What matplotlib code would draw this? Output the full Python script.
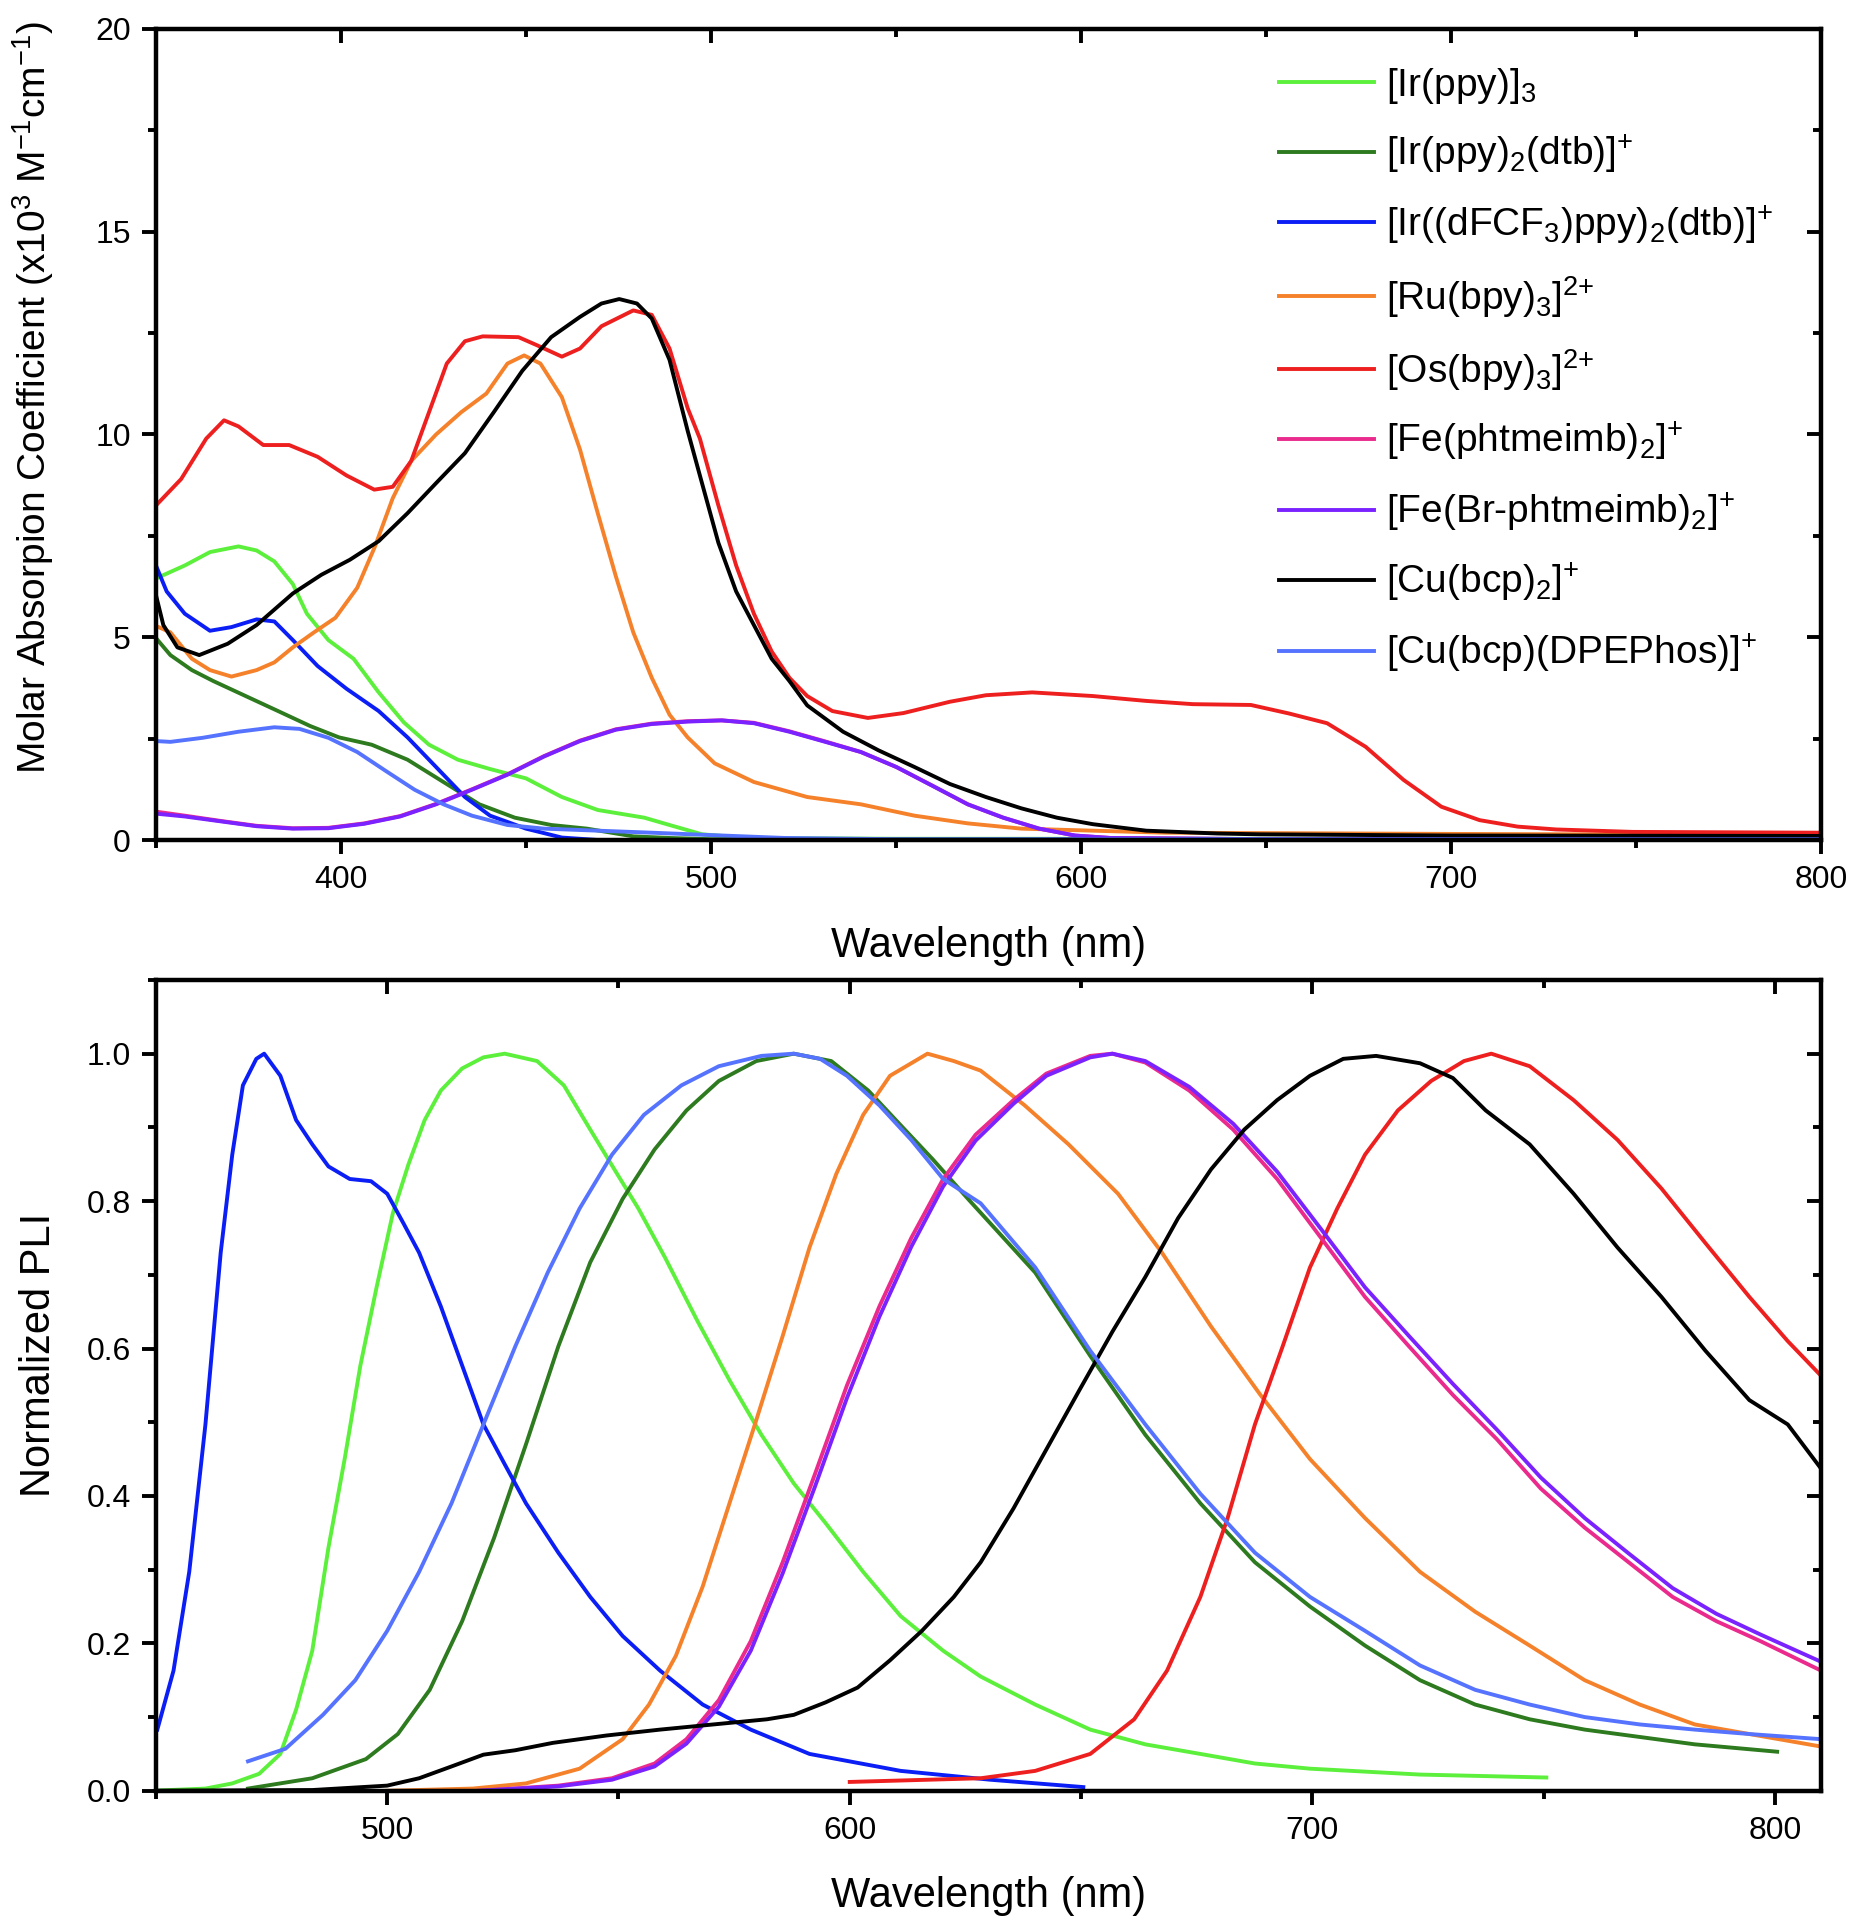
import numpy as np
import matplotlib.pyplot as plt
from matplotlib.ticker import MultipleLocator

plt.rcParams['font.family'] = ['Liberation Sans', 'DejaVu Sans']
plt.rcParams['mathtext.fontset'] = 'custom'
plt.rcParams['mathtext.rm'] = 'Liberation Sans'
plt.rcParams['mathtext.it'] = 'Liberation Sans'

labels = [r'[Ir(ppy)]$_3$', r'[Ir(ppy)$_2$(dtb)]$^{{+}}$', r'[Ir((dFCF$_3$)ppy)$_2$(dtb)]$^{{+}}$',
          r'[Ru(bpy)$_3$]$^{2{+}}$', r'[Os(bpy)$_3$]$^{2{+}}$', r'[Fe(phtmeimb)$_2$]$^{{+}}$',
          r'[Fe(Br-phtmeimb)$_2$]$^{{+}}$', r'[Cu(bcp)$_2$]$^{{+}}$', r'[Cu(bcp)(DPEPhos)]$^{{+}}$']
colors = ['#5cf03c', '#2d7a1f', '#0a1ef5', '#f5812a', '#ee1f1f', '#ea2a8c', '#7a22ff', '#000000', '#5573ff']

# ---- absorption (top) ----
abs_ppy_x = [350, 357.8, 364.6, 372.3, 377.2, 382, 387, 390.8, 396.6, 403.4, 410.2, 417, 423.8, 431.6, 440.3, 450, 459.7, 469.4, 482, 488.8, 497.6, 510, 550, 800]
abs_ppy_y = [6.45, 6.77, 7.1, 7.24, 7.14, 6.87, 6.31, 5.58, 4.93, 4.47, 3.64, 2.9, 2.35, 1.98, 1.75, 1.52, 1.06, 0.74, 0.55, 0.37, 0.14, 0.05, 0.03, 0.03]
abs_dtb_x = [350, 353.9, 359.7, 365.5, 373.3, 383, 391.7, 399.5, 408.3, 418, 427.7, 437.4, 447, 456.8, 466.5, 479, 488.8, 500, 800]
abs_dtb_y = [4.98, 4.56, 4.19, 3.92, 3.59, 3.18, 2.81, 2.53, 2.35, 1.98, 1.43, 0.88, 0.55, 0.37, 0.28, 0.09, 0.05, 0.02, 0.02]
abs_dfcf_x = [350, 352.9, 357.8, 364.6, 370.4, 377.2, 382, 387, 393.7, 401.5, 410.2, 418, 425.7, 433.5, 440.3, 450, 459.7, 469.4, 800]
abs_dfcf_y = [6.77, 6.13, 5.58, 5.16, 5.25, 5.44, 5.39, 4.93, 4.29, 3.73, 3.18, 2.53, 1.8, 1.06, 0.6, 0.28, 0.06, 0.0, 0.0]
abs_ru_x = [350, 353.9, 359.7, 364.6, 370.4, 377.2, 382, 387, 392.7, 398.5, 404.4, 409.2, 414, 419, 425.7, 432.5, 439.3, 445, 449.5, 453.9, 459.7, 464.6, 469.4, 474.3, 479, 484, 488.8, 493.7, 501, 511.6, 526, 540.5, 555, 569.4, 583.9, 603.2, 622.5, 700, 800]
abs_ru_y = [5.28, 5.12, 4.47, 4.19, 4.03, 4.19, 4.38, 4.75, 5.12, 5.48, 6.22, 7.24, 8.43, 9.35, 10.0, 10.55, 11.01, 11.75, 11.95, 11.75, 10.92, 9.63, 8.06, 6.5, 5.12, 4.0, 3.09, 2.53, 1.89, 1.43, 1.06, 0.88, 0.6, 0.41, 0.28, 0.23, 0.18, 0.15, 0.12]
abs_os_x = [350, 356.8, 363.6, 368.4, 372.3, 379, 386, 393.7, 401.5, 409, 414, 419, 423.8, 428.6, 433.5, 438.3, 448, 453, 459.7, 464.6, 470.4, 479, 484, 488.8, 493.7, 497, 502, 506.8, 511.6, 516.4, 521.2, 526, 532.8, 542.4, 552, 564.6, 574.3, 586.8, 603.2, 617.6, 630.2, 645.9, 656.2, 666.5, 676.9, 687.2, 697.4, 707.7, 718, 728.4, 749, 800]
abs_os_y = [8.25, 8.9, 9.9, 10.35, 10.2, 9.74, 9.74, 9.45, 8.99, 8.64, 8.71, 9.35, 10.55, 11.75, 12.3, 12.42, 12.4, 12.2, 11.92, 12.12, 12.67, 13.06, 12.95, 12.12, 10.65, 9.9, 8.25, 6.77, 5.58, 4.65, 4.0, 3.55, 3.18, 3.01, 3.13, 3.41, 3.57, 3.64, 3.55, 3.43, 3.35, 3.33, 3.12, 2.88, 2.3, 1.48, 0.82, 0.49, 0.33, 0.26, 0.2, 0.18]
abs_fe_x = [350, 357.8, 367.5, 377.2, 387, 396.6, 406.3, 416, 425.7, 435.4, 445, 454.9, 464.6, 474.3, 484, 493.7, 502.9, 511.6, 521.2, 530.9, 540.5, 550.1, 559.8, 569.4, 579, 588.7, 598.4, 608, 650, 800]
abs_fe_y = [0.7, 0.6, 0.47, 0.35, 0.29, 0.3, 0.41, 0.59, 0.89, 1.25, 1.62, 2.07, 2.45, 2.73, 2.87, 2.93, 2.95, 2.89, 2.68, 2.43, 2.17, 1.8, 1.34, 0.88, 0.55, 0.28, 0.11, 0.05, 0.02, 0.02]
abs_febr_x = [350, 357.8, 367.5, 377.2, 387, 396.6, 406.3, 416, 425.7, 435.4, 445, 454.9, 464.6, 474.3, 484, 493.7, 502.9, 511.6, 521.2, 530.9, 540.5, 550.1, 559.8, 569.4, 579, 588.7, 598.4, 608, 650, 800]
abs_febr_y = [0.65, 0.58, 0.46, 0.34, 0.28, 0.29, 0.4, 0.58, 0.88, 1.24, 1.61, 2.06, 2.44, 2.72, 2.86, 2.92, 2.95, 2.88, 2.67, 2.42, 2.17, 1.8, 1.34, 0.88, 0.55, 0.28, 0.11, 0.05, 0.02, 0.02]
abs_cu2_x = [350, 352, 355.8, 361.7, 369.4, 377.2, 387, 394.7, 402.4, 410.2, 418, 425.7, 433.5, 441.3, 449, 456.8, 464.6, 470.4, 475.2, 480, 484, 488.8, 493.7, 497, 502, 506.8, 511.6, 516.4, 521.2, 526, 535.7, 545.3, 555, 564.6, 574.3, 583.9, 593.5, 603.2, 617.6, 636.9, 648.3, 700, 800]
abs_cu2_y = [6.04, 5.3, 4.75, 4.56, 4.84, 5.3, 6.08, 6.54, 6.91, 7.37, 8.06, 8.8, 9.54, 10.55, 11.57, 12.4, 12.9, 13.23, 13.34, 13.23, 12.86, 11.84, 10.09, 8.99, 7.33, 6.13, 5.3, 4.47, 3.92, 3.32, 2.67, 2.21, 1.8, 1.38, 1.06, 0.78, 0.55, 0.39, 0.23, 0.16, 0.14, 0.11, 0.1]
abs_cudpe_x = [350, 353.9, 362.6, 372.3, 382, 388.8, 396.6, 404.4, 412, 419.9, 427.7, 435.4, 445, 454.9, 469.4, 484, 500.3, 520, 550, 800]
abs_cudpe_y = [2.44, 2.42, 2.52, 2.67, 2.78, 2.74, 2.52, 2.17, 1.71, 1.24, 0.88, 0.6, 0.37, 0.28, 0.23, 0.18, 0.12, 0.05, 0.02, 0.02]

# ---- emission (bottom) ----
em_ppy_x = [449, 460.7, 466.5, 472.3, 476.9, 480.3, 483.8, 487.3, 490.8, 494.2, 497.7, 501.2, 504.6, 508.1, 511.6, 516.2, 520.8, 525.4, 532.4, 538.2, 543.9, 549.7, 554.3, 560.1, 567.1, 574, 580.9, 587.9, 594.8, 602.9, 611, 620.2, 628.3, 640.1, 652, 663.9, 675.8, 687.6, 699.5, 723.3, 750.6]
em_ppy_y = [0.0, 0.003, 0.01, 0.023, 0.05, 0.11, 0.19, 0.33, 0.45, 0.577, 0.683, 0.783, 0.85, 0.91, 0.95, 0.98, 0.995, 1.0, 0.99, 0.957, 0.897, 0.837, 0.79, 0.723, 0.637, 0.557, 0.483, 0.417, 0.363, 0.297, 0.237, 0.19, 0.155, 0.117, 0.083, 0.063, 0.05, 0.037, 0.03, 0.022, 0.018]
em_dtb_x = [469.9, 483.8, 495.4, 502.3, 509.2, 516.2, 523.1, 530, 537, 543.9, 550.9, 557.8, 564.7, 571.7, 579.8, 587.9, 596, 604, 611, 617.9, 626, 640.1, 652, 663.9, 675.8, 687.6, 699.5, 711.4, 723.3, 735.2, 747, 758.9, 770.8, 782.7, 800.5]
em_dtb_y = [0.003, 0.017, 0.043, 0.077, 0.137, 0.23, 0.343, 0.47, 0.603, 0.717, 0.803, 0.87, 0.923, 0.963, 0.99, 1.0, 0.99, 0.95, 0.903, 0.857, 0.8, 0.703, 0.59, 0.483, 0.39, 0.31, 0.25, 0.197, 0.15, 0.117, 0.097, 0.083, 0.073, 0.063, 0.053]
em_dfcf_x = [450.3, 453.8, 457.2, 460.7, 464, 466.5, 468.8, 471.7, 473.4, 476.9, 480.3, 483.8, 487.3, 491.9, 496.5, 500, 503.5, 506.9, 511.6, 516.2, 520.8, 525.4, 530, 537, 543.9, 550.9, 559, 568.2, 578.6, 591.3, 611, 630.4, 650.5]
em_dfcf_y = [0.083, 0.163, 0.297, 0.497, 0.73, 0.863, 0.957, 0.993, 1.0, 0.97, 0.91, 0.877, 0.847, 0.83, 0.827, 0.81, 0.77, 0.73, 0.657, 0.577, 0.497, 0.443, 0.39, 0.323, 0.263, 0.21, 0.163, 0.117, 0.083, 0.05, 0.027, 0.015, 0.005]
em_ru_x = [500, 518.5, 530, 541.6, 550.9, 556.6, 562.4, 568.2, 574, 579.8, 585.5, 591.3, 597.1, 602.9, 608.7, 616.8, 622.5, 628.3, 637.8, 647.3, 658, 667.5, 678.1, 688.8, 699.5, 711.4, 723.3, 735.2, 747, 758.9, 770.8, 782.7, 794.5, 810]
em_ru_y = [0.0, 0.003, 0.01, 0.03, 0.07, 0.117, 0.183, 0.277, 0.39, 0.503, 0.617, 0.737, 0.837, 0.917, 0.97, 1.0, 0.99, 0.977, 0.93, 0.877, 0.81, 0.73, 0.63, 0.537, 0.45, 0.37, 0.297, 0.243, 0.197, 0.15, 0.117, 0.09, 0.077, 0.06]
em_os_x = [600, 628.3, 640.1, 652, 661.5, 668.6, 675.8, 681.7, 687.6, 693.6, 699.5, 705.4, 711.4, 718.5, 725.7, 732.8, 738.7, 747, 756.5, 766, 775.5, 785, 794.5, 802.8, 810]
em_os_y = [0.012, 0.017, 0.027, 0.05, 0.097, 0.163, 0.263, 0.37, 0.497, 0.603, 0.71, 0.79, 0.863, 0.923, 0.963, 0.99, 1.0, 0.983, 0.937, 0.883, 0.817, 0.743, 0.67, 0.61, 0.563]
em_fe_x = [519.7, 537, 548.6, 557.8, 564.7, 571.7, 578.6, 585.5, 592.5, 599.4, 606.4, 613.3, 620.2, 627.2, 635.4, 642.5, 652, 656.8, 663.9, 673.4, 682.9, 692.4, 701.9, 711.4, 720.9, 730.4, 739.9, 749.4, 758.9, 768.4, 777.9, 787.4, 796.9, 810]
em_fe_y = [0.0, 0.007, 0.017, 0.037, 0.07, 0.123, 0.203, 0.31, 0.43, 0.55, 0.657, 0.75, 0.83, 0.89, 0.937, 0.973, 0.997, 1.0, 0.988, 0.95, 0.897, 0.83, 0.75, 0.67, 0.603, 0.537, 0.477, 0.41, 0.357, 0.31, 0.263, 0.23, 0.203, 0.163]
em_febr_x = [519.7, 537, 548.6, 557.8, 564.7, 571.7, 578.6, 585.5, 592.5, 599.4, 606.4, 613.3, 620.2, 627.2, 635.4, 642.5, 652, 656.8, 663.9, 673.4, 682.9, 692.4, 701.9, 711.4, 720.9, 730.4, 739.9, 749.4, 758.9, 768.4, 777.9, 787.4, 796.9, 810]
em_febr_y = [0.0, 0.006, 0.015, 0.033, 0.064, 0.114, 0.19, 0.295, 0.413, 0.533, 0.643, 0.738, 0.82, 0.882, 0.932, 0.97, 0.995, 1.0, 0.99, 0.955, 0.905, 0.84, 0.762, 0.683, 0.617, 0.552, 0.49, 0.425, 0.37, 0.322, 0.275, 0.24, 0.212, 0.175]
em_cu2_x = [449, 483.8, 500, 506.9, 513.9, 520.8, 527.7, 535.8, 547.4, 559, 570.5, 582.1, 587.9, 594.8, 601.7, 608.7, 615.6, 622.5, 628.3, 635.4, 642.5, 649.6, 656.8, 663.9, 671, 678.1, 685.3, 692.4, 699.5, 706.7, 713.8, 723.3, 730.4, 737.5, 747, 756.5, 766, 775.5, 785, 794.5, 802.8, 810]
em_cu2_y = [0.0, 0.001, 0.007, 0.017, 0.033, 0.049, 0.055, 0.065, 0.075, 0.083, 0.09, 0.097, 0.103, 0.12, 0.14, 0.177, 0.217, 0.263, 0.31, 0.383, 0.463, 0.543, 0.623, 0.697, 0.777, 0.843, 0.897, 0.937, 0.97, 0.993, 0.997, 0.987, 0.967, 0.923, 0.877, 0.81, 0.737, 0.67, 0.597, 0.53, 0.497, 0.437]
em_cudpe_x = [469.9, 478, 486.1, 493.1, 500, 506.9, 513.9, 520.8, 527.7, 534.7, 541.6, 548.6, 555.5, 563.6, 571.7, 580.9, 587.9, 593.6, 599.4, 606.4, 613.3, 620.2, 628.3, 640.1, 652, 663.9, 675.8, 687.6, 699.5, 711.4, 723.3, 735.2, 747, 758.9, 770.8, 782.7, 794.5, 810]
em_cudpe_y = [0.04, 0.057, 0.103, 0.15, 0.217, 0.297, 0.39, 0.497, 0.603, 0.703, 0.79, 0.863, 0.917, 0.957, 0.983, 0.997, 1.0, 0.993, 0.97, 0.93, 0.883, 0.83, 0.797, 0.71, 0.597, 0.497, 0.403, 0.323, 0.263, 0.217, 0.17, 0.137, 0.117, 0.1, 0.09, 0.083, 0.077, 0.07]

abs_series = [(abs_ppy_x, abs_ppy_y), (abs_dtb_x, abs_dtb_y), (abs_dfcf_x, abs_dfcf_y),
              (abs_ru_x, abs_ru_y), (abs_os_x, abs_os_y), (abs_fe_x, abs_fe_y),
              (abs_febr_x, abs_febr_y), (abs_cu2_x, abs_cu2_y), (abs_cudpe_x, abs_cudpe_y)]
em_series = [(em_ppy_x, em_ppy_y), (em_dtb_x, em_dtb_y), (em_dfcf_x, em_dfcf_y),
             (em_ru_x, em_ru_y), (em_os_x, em_os_y), (em_fe_x, em_fe_y),
             (em_febr_x, em_febr_y), (em_cu2_x, em_cu2_y), (em_cudpe_x, em_cudpe_y)]

fig = plt.figure(figsize=(18.52, 19.2), dpi=100)
ax1 = fig.add_axes([0.0842, 0.5625, 0.8991, 0.4224])
ax2 = fig.add_axes([0.0842, 0.0673, 0.8991, 0.4223])

lw = 2.8
for (x, y), c, lab in zip(abs_series, colors, labels):
    ax1.plot(x, y, color=c, lw=lw, label=lab)
for (x, y), c in zip(em_series, colors):
    ax2.plot(x, y, color=c, lw=lw)

def style(ax, xmaj, xmin, ymaj, ymin):
    ax.xaxis.set_major_locator(MultipleLocator(xmaj))
    ax.xaxis.set_minor_locator(MultipleLocator(xmin))
    ax.yaxis.set_major_locator(MultipleLocator(ymaj))
    ax.yaxis.set_minor_locator(MultipleLocator(ymin))
    for s in ax.spines.values():
        s.set_linewidth(3.2)
    ax.tick_params(which='both', bottom=True, left=True, top=True, right=True,
                   labelsize=23, width=2.8)
    ax.tick_params(which='major', length=10, pad=8)
    ax.tick_params(which='minor', length=6)
    ax.tick_params(axis='x', which='both', direction='out')
    ax.tick_params(axis='y', which='both', direction='out')
    # mirrored ticks point inward on the top and right
    for t in ax.xaxis.get_major_ticks() + ax.xaxis.get_minor_ticks():
        t.tick2line.set_marker(3)
    for t in ax.yaxis.get_major_ticks() + ax.yaxis.get_minor_ticks():
        t.tick2line.set_marker(0)

ax1.set_xlim(350, 800)
ax1.set_ylim(0, 20)
style(ax1, 100, 50, 5, 2.5)
ax1.set_xlabel('Wavelength (nm)', fontsize=30, labelpad=22)
ax1.set_ylabel(r'Molar Absorpion Coefficient (x10$^3$ M$^{-1}$cm$^{-1}$)', fontsize=28)
ax1.yaxis.set_label_coords(-0.06, 0.545)

ax2.set_xlim(450, 810)
ax2.set_ylim(0, 1.1)
style(ax2, 100, 50, 0.2, 0.1)
ax2.yaxis.set_major_formatter(plt.FuncFormatter(lambda v, p: f'{v:.1f}'))
ax2.set_xlabel('Wavelength (nm)', fontsize=30, labelpad=22)
ax2.set_ylabel('Normalized PLI', fontsize=30)
ax2.yaxis.set_label_coords(-0.058, 0.538)

ax1.legend(loc='upper left', bbox_to_anchor=(0.665, 0.974), frameon=False, fontsize=28,
           handlelength=2.45, handletextpad=0.3, labelspacing=0.7, borderaxespad=0)

fig.savefig('out.png', dpi=100)
